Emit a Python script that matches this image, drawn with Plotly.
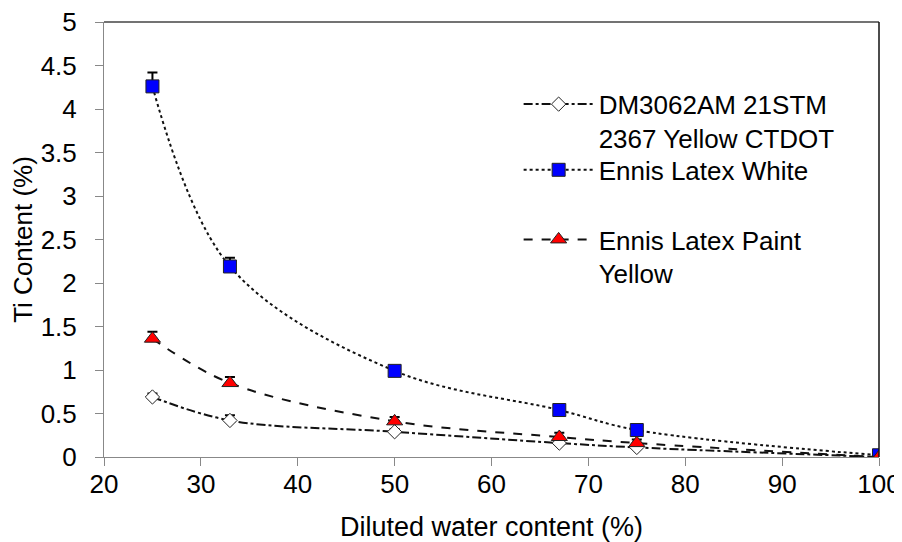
import plotly.graph_objects as go

x_vals = [25, 33, 50, 67, 75, 100]

dm_name = "DM3062AM 21STM<br>2367 Yellow CTDOT"
dm_vals = [0.69, 0.42, 0.29, 0.16, 0.11, 0.0]
dm_err = [0.04, 0.06, 0.03, 0.03, 0.02, 0.0]

white_name = "Ennis Latex White"
white_vals = [4.26, 2.19, 0.99, 0.54, 0.31, 0.02]
white_err = [0.16, 0.1, 0.02, 0.03, 0.02, 0.0]

yellow_name = "Ennis Latex Paint<br>Yellow"
yellow_vals = [1.36, 0.85, 0.41, 0.23, 0.16, 0.0]
yellow_err = [0.08, 0.07, 0.05, 0.05, 0.04, 0.0]

x_ticks = [20, 30, 40, 50, 60, 70, 80, 90, 100]
y_ticks = [0, 0.5, 1, 1.5, 2, 2.5, 3, 3.5, 4, 4.5, 5]
y_tick_labels = ["0", "0.5", "1", "1.5", "2", "2.5", "3", "3.5", "4", "4.5", "5"]

FONT = "Liberation Sans, Arial, sans-serif"

fig = go.Figure()

def add(name, vals, err, dash, symbol, fill, size, legend):
    fig.add_trace(go.Scatter(
        x=x_vals, y=vals, name=name, mode="lines+markers",
        legend=legend,
        line=dict(color="#111111", width=2, dash=dash, shape="spline", smoothing=1.0),
        marker=dict(symbol=symbol, size=size, color=fill,
                    line=dict(color="#222222", width=1)),
        error_y=dict(type="data", symmetric=False, array=err,
                     arrayminus=[0] * len(err), color="black", thickness=2, width=5),
    ))

add(dm_name, dm_vals, dm_err, "dashdot", "diamond", "white", 11, "legend")
add(white_name, white_vals, white_err, "dot", "square", "#0000ff", 13, "legend2")
add(yellow_name, yellow_vals, yellow_err, "dash", "triangle-up", "#ff0000", 14, "legend3")

leg_common = dict(x=0.535, xanchor="left", yanchor="top", bgcolor="rgba(0,0,0,0)",
                  font=dict(size=26), itemwidth=70, valign="top")

# the page body adds an 8 px offset, so margins are compensated
fig.update_layout(
    width=902, height=542,
    margin=dict(l=96, r=31, t=14, b=93, autoexpand=False),
    paper_bgcolor="white", plot_bgcolor="white",
    font=dict(family=FONT, size=26, color="black"),
    showlegend=True,
    legend=dict(y=0.865, **leg_common),
    legend2=dict(y=0.714, **leg_common),
    legend3=dict(y=0.554, **leg_common),
    xaxis=dict(range=[20, 100], tickvals=x_ticks, ticks="outside", ticklen=8,
               tickcolor="#888888", showline=True, linecolor="#888888", linewidth=1,
               showgrid=False, zeroline=False, mirror=False, automargin=False,
               ticklabelstandoff=-4, ticklabeloverflow="allow",
               title=dict(text="Diluted water content (%)", font=dict(size=27), standoff=18),
               tickfont=dict(size=26)),
    yaxis=dict(range=[0, 5], tickvals=y_ticks, ticktext=y_tick_labels, ticks="outside",
               ticklen=8, tickcolor="#888888", showline=True, linecolor="#888888",
               linewidth=1, showgrid=False, zeroline=False, automargin=False,
               ticklabelstandoff=13, ticklabeloverflow="allow",
               title=dict(text="Ti Content (%)", font=dict(size=26), standoff=10),
               tickfont=dict(size=26)),
)

# top and right frame lines of the plot area
fig.add_shape(type="line", xref="paper", yref="paper", x0=0, x1=1, y0=1, y1=1,
              line=dict(color="#444444", width=1.5))
fig.add_shape(type="line", xref="paper", yref="paper", x0=1, x1=1, y0=0, y1=1,
              line=dict(color="#111111", width=1.5))

fig.write_html("out.html")
